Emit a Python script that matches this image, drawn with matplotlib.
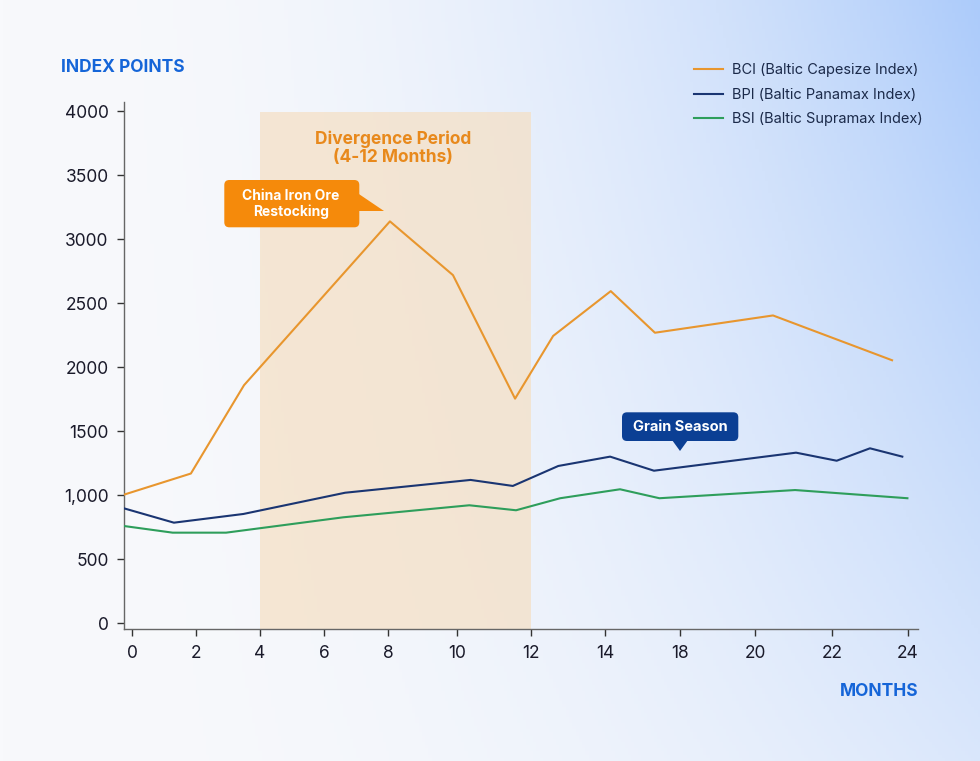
import numpy as np
import matplotlib.pyplot as plt
from matplotlib.patches import FancyBboxPatch, Polygon

plt.rcParams['font.family'] = ['Inter', 'DejaVu Sans']

# datos (x = posicion en el eje, 1 unidad = medio tick)
bci_x = [-0.25, 1.84, 3.5, 8.06, 10.03, 11.97, 13.16, 14.96, 16.34, 20.03, 23.75]
bci_y = [1005, 1170, 1860, 3140, 2720, 1755, 2245, 2595, 2270, 2405, 2055]

bpi_x = [-0.25, 1.31, 3.48, 6.66, 10.58, 11.9, 13.32, 14.94, 16.31, 20.75, 22.02, 23.06, 24.07]
bpi_y = [898, 786, 854, 1020, 1120, 1073, 1229, 1302, 1192, 1333, 1270, 1367, 1302]

bsi_x = [-0.25, 1.27, 2.94, 6.6, 10.54, 12.0, 13.38, 15.25, 16.48, 20.72, 24.23]
bsi_y = [760, 708, 708, 828, 922, 883, 977, 1047, 977, 1041, 977]

xtick_pos = [0, 2, 4, 6, 8, 10.16, 12.47, 14.78, 17.13, 19.47, 21.88, 24.25]
xtick_lab = ['0', '2', '4', '6', '8', '10', '12', '14', '18', '20', '22', '24']
ytick_pos = [0, 500, 1000, 1500, 2000, 2500, 3000, 3500, 4000]
ytick_lab = ['0', '500', '1,000', '1500', '2000', '2500', '3000', '3500', '4000']

periodo = (4, 12.47)

W, H = 980, 761
fig = plt.figure(figsize=(W / 100, H / 100), dpi=100)

# fondo degradado
bg = fig.add_axes([0, 0, 1, 1], zorder=-2)
uu, vv = np.meshgrid(np.linspace(0, 1, 300), np.linspace(0, 1, 240))
t = uu ** 2.2 * (1 - 0.6 * vv)
t = np.clip(t, 0, 1)[..., None]
c0 = np.array([248, 249, 252]) / 255
c1 = np.array([172, 203, 250]) / 255
bg.imshow(c0 * (1 - t) + c1 * t, aspect='auto', extent=[0, 1, 1, 0])
bg.axis('off')

ax = fig.add_axes([124 / W, 1 - 629.3 / H, (918.3 - 124) / W, (629.3 - 101.7) / H])
ax.patch.set_alpha(0)

ax.fill_between(periodo, -47, 3995, color='#f5dfc2', alpha=0.7, lw=0, zorder=1)

ax.plot(bci_x, bci_y, color='#e8962e', lw=1.5, label='BCI (Baltic Capesize Index)', zorder=3)
ax.plot(bpi_x, bpi_y, color='#1a3572', lw=1.5, label='BPI (Baltic Panamax Index)', zorder=3)
ax.plot(bsi_x, bsi_y, color='#2e9e5b', lw=1.5, label='BSI (Baltic Supramax Index)', zorder=3)

ax.set_xlim(-0.25, 24.57)
ax.set_ylim(-47, 4075)
ax.set_xticks(xtick_pos, xtick_lab)
ax.set_yticks(ytick_pos, ytick_lab)
ax.tick_params(direction='out', length=5, width=1, color='#333333',
               labelsize=12.5, labelcolor='#1a1a2a', pad=6)
for s in ['top', 'right']:
    ax.spines[s].set_visible(False)
for s in ['left', 'bottom']:
    ax.spines[s].set_color('#666666')
    ax.spines[s].set_linewidth(1)

fig.legend(loc='upper left', bbox_to_anchor=(681 / W, 1 - 50 / H), frameon=False,
           fontsize=10.5, handlelength=1.95, handletextpad=0.65, labelspacing=0.72,
           labelcolor='#1b2a4a')

# capa de anotaciones en pixeles
ov = fig.add_axes([0, 0, 1, 1], zorder=5)
ov.set_xlim(0, W)
ov.set_ylim(H, 0)
ov.axis('off')

azul = '#1565d8'
ov.text(61, 68, 'INDEX POINTS', color=azul, fontsize=12.5, fontweight='bold', va='center', ha='left')
ov.text(918, 692, 'MONTHS', color=azul, fontsize=12.5, fontweight='bold', va='center', ha='right')

ov.text(393, 148, 'Divergence Period\n(4-12 Months)', color='#e8891c', fontsize=12.5,
        fontweight='bold', ha='center', va='center', linespacing=1.1)

# globo naranja
naranja = '#f58a0b'
ov.add_patch(FancyBboxPatch((224.3 + 5, 180 + 5), 135 - 10, 47.3 - 10,
                            boxstyle='round,pad=5', fc=naranja, ec='none'))
ov.add_patch(Polygon([(350, 188), (384, 211), (350, 211)], closed=True, fc=naranja, ec='none'))
ov.text(291, 204, 'China Iron Ore\nRestocking', color='white', fontsize=10, fontweight='bold',
        ha='center', va='center', linespacing=1.15)

# globo azul
marino = '#0b3f94'
ov.add_patch(FancyBboxPatch((622 + 5, 412.3 + 5), 116.3 - 10, 28.7 - 10,
                            boxstyle='round,pad=5', fc=marino, ec='none'))
ov.add_patch(Polygon([(672, 440), (680, 451), (688, 440)], closed=True, fc=marino, ec='none'))
ov.text(680, 427, 'Grain Season', color='white', fontsize=10.5, fontweight='bold',
        ha='center', va='center')

plt.savefig('out.png', dpi=100)
